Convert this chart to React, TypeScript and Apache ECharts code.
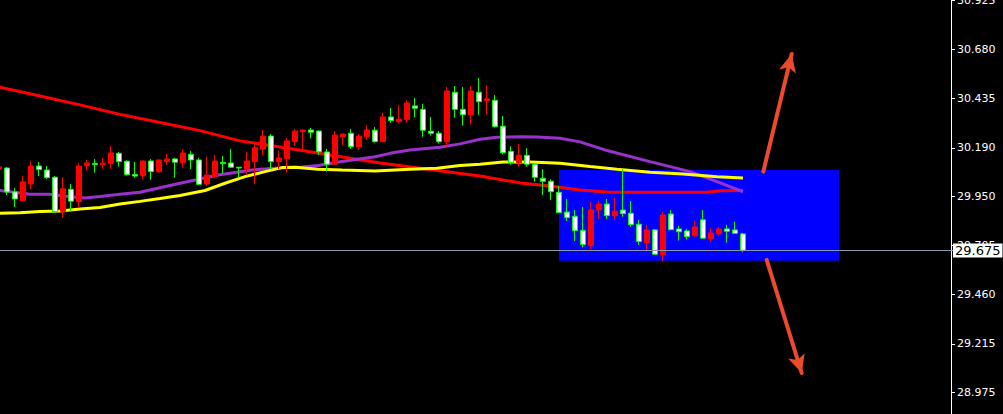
import React, { useEffect, useRef } from "react";
import * as echarts from "echarts";

// Bars, oldest first (slot 0 is the partly visible bar at the left edge)
const opens = [
  30.095, 29.971, 29.936, 30.021, 30.1, 30.082, 30.042, 29.873, 29.987, 29.925,
  30.1, 30.115, 30.108, 30.114, 30.165, 30.122, 30.057, 30.05, 30.125, 30.072,
  30.13, 30.135, 30.119, 30.165, 30.13, 30.009, 30.055, 30.125, 30.112, 30.094,
  30.09, 30.125, 30.191, 30.249, 30.122, 30.14, 30.225, 30.274, 30.279, 30.268,
  30.171, 30.109, 30.254, 30.259, 30.196, 30.249, 30.279, 30.221, 30.344, 30.326,
  30.333, 30.414, 30.387, 30.278, 30.263, 30.221, 30.473, 30.382, 30.355, 30.473,
  30.42, 30.434, 30.296, 30.166, 30.117, 30.153, 30.109, 30.044, 30.024, 29.972,
  29.868, 29.843, 29.778, 29.709, 29.881, 29.911, 29.853, 29.875, 29.863, 29.808,
  29.724, 29.782, 29.661, 29.856, 29.783, 29.773, 29.748, 29.797, 29.741, 29.767,
  29.787, 29.775, 29.765, 29.681,
];
const closes = [
  30.085, 30.09, 29.971, 29.928, 30.011, 30.1, 30.08, 30.044, 29.873, 29.984,
  29.923, 30.102, 30.113, 30.107, 30.112, 30.163, 30.124, 30.058, 30.052, 30.125,
  30.072, 30.122, 30.135, 30.117, 30.158, 30.13, 30.011, 30.047, 30.118, 30.115,
  30.094, 30.085, 30.122, 30.185, 30.249, 30.122, 30.137, 30.221, 30.271, 30.279,
  30.274, 30.17, 30.109, 30.246, 30.263, 30.196, 30.246, 30.278, 30.221, 30.344,
  30.321, 30.331, 30.399, 30.382, 30.273, 30.263, 30.221, 30.467, 30.382, 30.355,
  30.467, 30.425, 30.427, 30.298, 30.173, 30.117, 30.153, 30.109, 30.039, 30.024,
  29.969, 29.871, 29.85, 29.78, 29.704, 29.881, 29.911, 29.853, 29.881, 29.865,
  29.81, 29.717, 29.782, 29.657, 29.861, 29.787, 29.777, 29.753, 29.832, 29.737,
  29.763, 29.787, 29.782, 29.762,
];
const highs = [
  30.1, 30.095, 29.991, 30.05, 30.125, 30.12, 30.1, 30.05, 30.045, 30.011,
  30.115, 30.13, 30.135, 30.14, 30.2, 30.17, 30.128, 30.12, 30.128, 30.135,
  30.133, 30.16, 30.14, 30.185, 30.175, 30.141, 30.146, 30.155, 30.15, 30.185,
  30.095, 30.17, 30.208, 30.279, 30.259, 30.176, 30.239, 30.284, 30.282, 30.289,
  30.277, 30.185, 30.274, 30.262, 30.284, 30.259, 30.304, 30.294, 30.365, 30.389,
  30.404, 30.427, 30.438, 30.409, 30.344, 30.274, 30.493, 30.498, 30.493, 30.498,
  30.538, 30.503, 30.453, 30.349, 30.198, 30.21, 30.188, 30.11, 30.085, 30.034,
  30.001, 29.936, 29.881, 29.896, 29.921, 29.926, 29.936, 29.941, 30.085, 29.926,
  29.832, 29.807, 29.787, 29.871, 29.881, 29.802, 29.787, 29.828, 29.881, 29.792,
  29.797, 29.807, 29.822, 29.767,
];
const lows = [
  30.08, 29.956, 29.896, 29.926, 29.986, 30.05, 30.035, 29.866, 29.841, 29.873,
  29.896, 30.077, 30.067, 30.087, 30.087, 30.097, 30.052, 30.042, 30.035, 30.032,
  30.067, 30.107, 30.042, 30.092, 30.085, 30.006, 30.001, 30.039, 30.064, 30.093,
  30.042, 30.055, 30.011, 30.155, 30.085, 30.084, 30.067, 30.201, 30.171, 30.238,
  30.155, 30.072, 30.108, 30.205, 30.185, 30.18, 30.23, 30.216, 30.22, 30.316,
  30.311, 30.316, 30.342, 30.246, 30.251, 30.213, 30.196, 30.34, 30.301, 30.306,
  30.355, 30.355, 30.291, 30.158, 30.107, 30.097, 30.097, 30.022, 29.956, 29.931,
  29.866, 29.827, 29.727, 29.694, 29.687, 29.836, 29.836, 29.832, 29.848, 29.798,
  29.707, 29.674, 29.66, 29.624, 29.782, 29.729, 29.734, 29.745, 29.74, 29.724,
  29.753, 29.719, 29.764, 29.671,
];

// Moving averages as [bar position, price]
const maRed = [
  [-0.5, 30.497], [5.125, 30.448], [10.125, 30.404], [15.125, 30.357], [20.125, 30.316],
  [25.125, 30.276], [30.125, 30.225], [35.125, 30.195], [41.375, 30.155], [47.625, 30.115],
  [53.875, 30.083], [60.125, 30.05], [65.125, 30.016], [68.875, 30.001], [72.625, 29.981],
  [76.375, 29.969], [88.5, 29.969], [90.125, 29.977], [93, 29.978],
];
const maPurple = [
  [-0.5, 29.981], [1.375, 29.972], [3.875, 29.959], [6.375, 29.959], [8.875, 29.947],
  [10.75, 29.941], [12.625, 29.948], [15.125, 29.959], [17.625, 29.969], [20.125, 29.992],
  [22.625, 30.014], [27.375, 30.055], [31.625, 30.08], [34.5, 30.089], [37.875, 30.095],
  [39.875, 30.102], [42.875, 30.122], [47, 30.146], [48.875, 30.163], [51.375, 30.18],
  [55.125, 30.193], [57.625, 30.21], [60.125, 30.233], [62.25, 30.243], [65.125, 30.246],
  [67.25, 30.244], [70.125, 30.238], [72.625, 30.22], [75.75, 30.18], [81.375, 30.122],
  [86.375, 30.072], [89.75, 30.022], [93, 29.972],
];
const maYellow = [
  [-0.5, 29.864], [2.625, 29.868], [5.125, 29.873], [7.625, 29.876], [10.125, 29.886],
  [12.625, 29.894], [15.125, 29.911], [17.625, 29.924], [20.125, 29.938], [22.625, 29.953],
  [25.75, 29.978], [28.25, 30.014], [30.75, 30.047], [33.25, 30.072], [35.375, 30.092],
  [37, 30.094], [39.875, 30.084], [42.875, 30.08], [47, 30.075], [51.375, 30.084],
  [54.75, 30.089], [57.625, 30.102], [60.125, 30.109], [63, 30.12], [66.375, 30.12],
  [70.125, 30.114], [73.875, 30.097], [77.25, 30.084], [81.375, 30.069], [85.5, 30.06],
  [89.75, 30.047], [93, 30.04],
];

const priceTicks = [30.925, 30.68, 30.435, 30.19, 29.95, 29.705, 29.46, 29.215, 28.975];
const lastPrice = 29.675;

// Range box and breakout arrows, in [bar position, price]
const rangeBox = [[70, 30.08], [105, 29.628]];
const arrowUp = [[95.54, 30.072], [99.09, 30.657]];
const arrowDown = [[95.96, 29.633], [100.34, 29.07]];

const SLOTS = 120;
const slots = Array.from({ length: SLOTS }, (_, i) => String(i));

export default function App() {
  const ref = useRef<HTMLDivElement>(null);

  useEffect(() => {
    document.body.style.margin = "0";
    const chart = echarts.init(ref.current!, null, { renderer: "svg" });
    const candles = opens.map((o, i) => [o, closes[i], lows[i], highs[i]]);
    const font = "DejaVu Sans";

    chart.setOption({
      animation: false,
      backgroundColor: "#000000",
      grid: {
        left: -5,
        top: 0,
        width: 960,
        height: 414,
        containLabel: false,
        outerBoundsMode: "none",
      },
      xAxis: [
        { type: "category", data: slots, boundaryGap: true, show: false },
        { type: "value", min: -0.5, max: SLOTS - 0.5, show: false },
      ],
      yAxis: {
        type: "value",
        position: "right",
        offset: -4,
        min: 28.866,
        max: 30.926,
        scale: true,
        splitLine: { show: false },
        axisLine: { show: true, onZero: false, lineStyle: { color: "#ffffff", width: 1 } },
        axisTick: {
          show: true,
          length: 4,
          lineStyle: { color: "#ffffff" },
          customValues: priceTicks,
        },
        axisLabel: {
          color: "#ffffff",
          fontFamily: font,
          fontSize: 11,
          margin: 6,
          verticalAlignMaxLabel: "middle",
          verticalAlignMinLabel: "middle",
          customValues: priceTicks,
          formatter: (v: number) => v.toFixed(3),
        },
      },
      series: [
        {
          type: "line",
          xAxisIndex: 1,
          data: maRed,
          showSymbol: false,
          z: 2,
          lineStyle: { color: "#ff0000", width: 3 },
        },
        {
          type: "line",
          xAxisIndex: 1,
          data: maPurple,
          showSymbol: false,
          z: 2,
          lineStyle: { color: "#9932cc", width: 3 },
        },
        {
          type: "line",
          xAxisIndex: 1,
          data: maYellow,
          showSymbol: false,
          z: 2,
          lineStyle: { color: "#ffff00", width: 3 },
          markArea: {
            silent: true,
            z: 1,
            itemStyle: { color: "#0000ff", opacity: 1 },
            data: [[{ coord: rangeBox[0] }, { coord: rangeBox[1] }]],
          },
          markLine: {
            silent: true,
            z: 6,
            symbol: ["none", "arrow"],
            symbolSize: [13, 18],
            label: { show: false },
            lineStyle: { color: "#ec4a2c", width: 4, type: "solid", cap: "round" },
            data: [
              [{ coord: arrowUp[0] }, { coord: arrowUp[1] }],
              [{ coord: arrowDown[0] }, { coord: arrowDown[1] }],
            ],
          },
        },
        {
          type: "candlestick",
          xAxisIndex: 0,
          data: candles,
          barWidth: 5,
          z: 3,
          itemStyle: {
            color: "#ffffff",
            color0: "#ff0000",
            borderColor: "#00ff00",
            borderColor0: "#ff0000",
            borderWidth: 1,
          },
          markLine: {
            silent: true,
            z: 5,
            symbol: ["none", "none"],
            lineStyle: { color: "#8c96aa", width: 1, type: "solid" },
            label: {
              show: true,
              position: "end",
              distance: -2,
              formatter: lastPrice.toFixed(3),
              backgroundColor: "#ffffff",
              color: "#000000",
              fontFamily: font,
              fontSize: 13,
              lineHeight: 14,
              padding: [0, 2, 0, 2],
            },
            data: [{ yAxis: lastPrice }],
          },
        },
      ],
    });

    return () => chart.dispose();
  }, []);

  return (
    <div
      ref={ref}
      style={{ position: "fixed", left: 0, top: 0, width: 1003, height: 414, background: "#000" }}
    />
  );
}
